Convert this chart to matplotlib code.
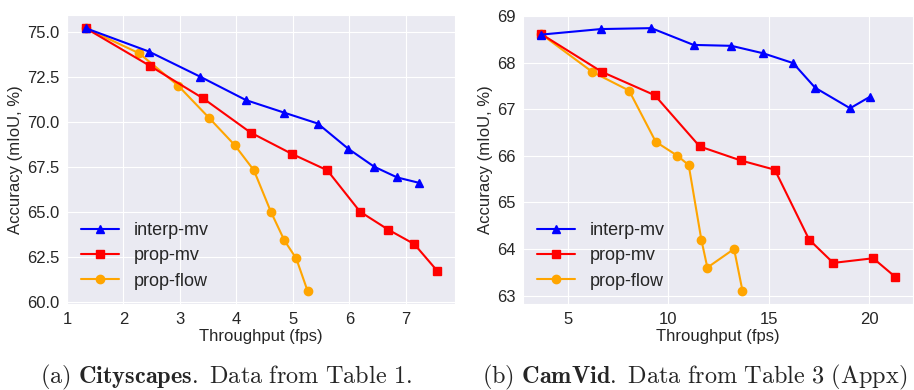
import matplotlib
matplotlib.use("Agg")
import matplotlib.pyplot as plt
import seaborn as sns

# Cityscapes (Table 1)
city_interp_x = [1.33, 2.45, 3.36, 4.17, 4.85, 5.44, 5.98, 6.44, 6.85, 7.24]
city_interp_y = [75.2, 73.9, 72.5, 71.2, 70.5, 69.9, 68.5, 67.5, 66.9, 66.6]
city_propmv_x = [1.33, 2.47, 3.41, 4.25, 4.99, 5.61, 6.19, 6.69, 7.15, 7.56]
city_propmv_y = [75.2, 73.1, 71.3, 69.4, 68.2, 67.3, 65.0, 64.0, 63.2, 61.7]
city_flow_x = [1.33, 2.28, 2.97, 3.52, 3.97, 4.31, 4.61, 4.85, 5.06, 5.26]
city_flow_y = [75.2, 73.8, 72.0, 70.2, 68.7, 67.3, 65.0, 63.4, 62.4, 60.6]

# CamVid (Table 3, appendix)
cam_interp_x = [3.64, 6.63, 9.15, 11.25, 13.14, 14.72, 16.21, 17.31, 19.05, 20.05]
cam_interp_y = [68.6, 68.72, 68.74, 68.38, 68.36, 68.2, 67.99, 67.46, 67.02, 67.27]
cam_propmv_x = [3.64, 6.69, 9.32, 11.56, 13.6, 15.3, 17.01, 18.21, 20.2, 21.3]
cam_propmv_y = [68.62, 67.8, 67.3, 66.2, 65.9, 65.7, 64.2, 63.7, 63.8, 63.4]
cam_flow_x = [3.64, 6.21, 8.04, 9.37, 10.45, 11.01, 11.64, 11.94, 13.27, 13.69]
cam_flow_y = [68.62, 67.8, 67.4, 66.3, 66.0, 65.8, 64.2, 63.6, 64.0, 63.1]

sns.set_style("darkgrid")
plt.rcParams['font.family'] = ['Liberation Sans', 'DejaVu Sans']
plt.rcParams['mathtext.fontset'] = 'cm'

fig = plt.figure(figsize=(9.14, 3.9), dpi=100)
ax1 = fig.add_axes([67 / 914, 86 / 390, 388 / 914, 289 / 390])
ax2 = fig.add_axes([523 / 914, 86 / 390, 390 / 914, 289 / 390])


def draw(ax, series):
    # first series drawn on top, like in the paper figure
    for z, ((x, y), color, marker, label) in enumerate(series):
        ax.plot(x, y, color=color, marker=marker, markersize=6, linewidth=1.5,
                label=label, zorder=5 - z)
    ax.set_xlabel('Throughput (fps)', fontsize=12, labelpad=2)
    ax.set_ylabel('Accuracy (mIoU, %)', fontsize=12, labelpad=3)
    ax.tick_params(labelsize=12, pad=2)
    ax.legend(loc='lower left', fontsize=13, frameon=False, borderaxespad=0.4,
              labelspacing=0.45, handlelength=2.1)


draw(ax1, [((city_interp_x, city_interp_y), 'blue', '^', 'interp-mv'),
           ((city_propmv_x, city_propmv_y), 'red', 's', 'prop-mv'),
           ((city_flow_x, city_flow_y), 'orange', 'o', 'prop-flow')])
draw(ax2, [((cam_interp_x, cam_interp_y), 'blue', '^', 'interp-mv'),
           ((cam_propmv_x, cam_propmv_y), 'red', 's', 'prop-mv'),
           ((cam_flow_x, cam_flow_y), 'orange', 'o', 'prop-flow')])
ax1.set_xticks([1, 2, 3, 4, 5, 6, 7])
ax2.set_xticks([5, 10, 15, 20])

fig.text(40 / 914, 1 - 377 / 390,
         r'$\mathrm{(a)\ }\mathbf{Cityscapes}\mathrm{.\ Data\ from\ Table\ 1.}$',
         fontsize=17.5, ha='left', va='center')
fig.text(482 / 914, 1 - 377 / 390,
         r'$\mathrm{(b)\ }\mathbf{CamVid}\mathrm{.\ Data\ from\ Table\ 3\ (Appx)}$',
         fontsize=17.5, ha='left', va='center')

fig.savefig('out.png', dpi=100)
